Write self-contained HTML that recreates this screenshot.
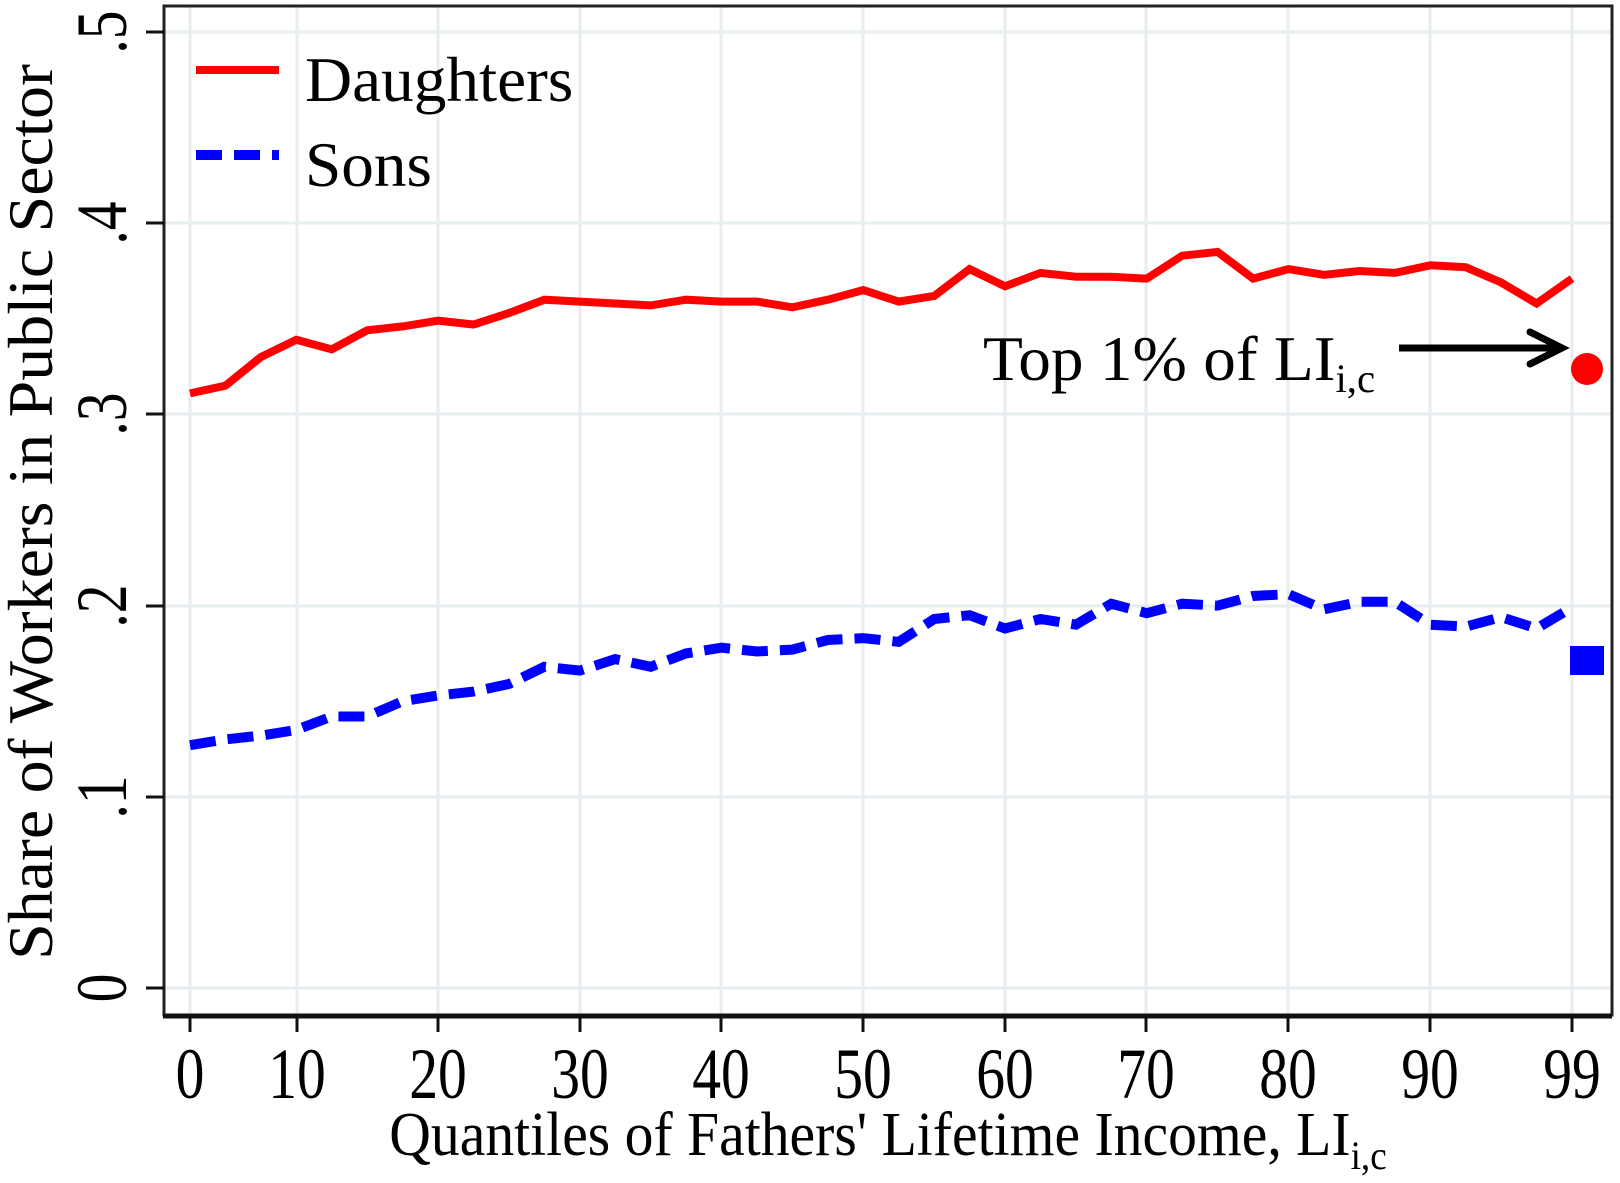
<!DOCTYPE html>
<html><head><style>body{margin:0;background:#fff}svg{display:block}text{font-family:"Liberation Serif",serif}</style></head><body>
<svg width="1620" height="1183" viewBox="0 0 1620 1183" xmlns="http://www.w3.org/2000/svg">
<g stroke="#e6eef0" stroke-width="3">
<line x1="163" x2="1612" y1="32" y2="32"/><line x1="163" x2="1612" y1="223" y2="223"/><line x1="163" x2="1612" y1="414" y2="414"/><line x1="163" x2="1612" y1="606" y2="606"/><line x1="163" x2="1612" y1="797" y2="797"/><line x1="163" x2="1612" y1="988" y2="988"/>
<line y1="6" y2="1015" x1="190" x2="190"/><line y1="6" y2="1015" x1="297" x2="297"/><line y1="6" y2="1015" x1="438" x2="438"/><line y1="6" y2="1015" x1="580" x2="580"/><line y1="6" y2="1015" x1="721" x2="721"/><line y1="6" y2="1015" x1="863" x2="863"/><line y1="6" y2="1015" x1="1005" x2="1005"/><line y1="6" y2="1015" x1="1146" x2="1146"/><line y1="6" y2="1015" x1="1288" x2="1288"/><line y1="6" y2="1015" x1="1430" x2="1430"/><line y1="6" y2="1015" x1="1572" x2="1572"/>
</g>
<rect x="164" y="6" width="1448" height="1009" fill="none" stroke="#222" stroke-width="3"/>
<line x1="163" x2="1612" y1="1016" y2="1016" stroke="#111" stroke-width="5"/>
<g stroke="#111" stroke-width="3">
<line x1="146" x2="164" y1="32" y2="32"/><line x1="146" x2="164" y1="223" y2="223"/><line x1="146" x2="164" y1="414" y2="414"/><line x1="146" x2="164" y1="606" y2="606"/><line x1="146" x2="164" y1="797" y2="797"/><line x1="146" x2="164" y1="988" y2="988"/>
<line y1="1016" y2="1032" x1="190" x2="190"/><line y1="1016" y2="1032" x1="297" x2="297"/><line y1="1016" y2="1032" x1="438" x2="438"/><line y1="1016" y2="1032" x1="580" x2="580"/><line y1="1016" y2="1032" x1="721" x2="721"/><line y1="1016" y2="1032" x1="863" x2="863"/><line y1="1016" y2="1032" x1="1005" x2="1005"/><line y1="1016" y2="1032" x1="1146" x2="1146"/><line y1="1016" y2="1032" x1="1288" x2="1288"/><line y1="1016" y2="1032" x1="1430" x2="1430"/><line y1="1016" y2="1032" x1="1572" x2="1572"/>
</g>
<g font-size="72" text-anchor="middle">
<text transform="translate(190,1098) scale(0.8,1)">0</text>
<text transform="translate(297,1098) scale(0.8,1)">10</text>
<text transform="translate(438,1098) scale(0.8,1)">20</text>
<text transform="translate(580,1098) scale(0.8,1)">30</text>
<text transform="translate(721,1098) scale(0.8,1)">40</text>
<text transform="translate(863,1098) scale(0.8,1)">50</text>
<text transform="translate(1005,1098) scale(0.8,1)">60</text>
<text transform="translate(1146,1098) scale(0.8,1)">70</text>
<text transform="translate(1288,1098) scale(0.8,1)">80</text>
<text transform="translate(1430,1098) scale(0.8,1)">90</text>
<text transform="translate(1572,1098) scale(0.8,1)">99</text>
</g>
<g font-size="72" text-anchor="middle">
<text transform="translate(126,988) rotate(-90) scale(0.8,1)">0</text>
<text transform="translate(126,797) rotate(-90) scale(0.8,1)">.1</text>
<text transform="translate(126,606) rotate(-90) scale(0.8,1)">.2</text>
<text transform="translate(126,414) rotate(-90) scale(0.8,1)">.3</text>
<text transform="translate(126,223) rotate(-90) scale(0.8,1)">.4</text>
<text transform="translate(126,32) rotate(-90) scale(0.8,1)">.5</text>
</g>
<text font-size="62" text-anchor="middle" transform="translate(888,1155) scale(0.93,1)">Quantiles of Fathers' Lifetime Income, LI<tspan font-size="40" dy="14">i,c</tspan></text>
<text font-size="64" text-anchor="middle" transform="translate(52,512) rotate(-90) scale(1.03,1)">Share of Workers in Public Sector</text>
<polyline fill="none" stroke="#f00" stroke-width="8" id="d" points=""/>
<polyline fill="none" stroke="#00f" stroke-width="10" stroke-dasharray="26,12" id="s" points=""/>
<line x1="196" x2="279" y1="70" y2="70" stroke="#f00" stroke-width="8"/>
<line x1="196" x2="279" y1="155" y2="155" stroke="#00f" stroke-width="10" stroke-dasharray="26,12"/>
<text font-size="64" transform="translate(305,101) scale(1.02,1)">Daughters</text>
<text font-size="64" transform="translate(305,186) scale(1.02,1)">Sons</text>
<text font-size="64" transform="translate(983,380) scale(1.02,1)">Top 1% of LI<tspan font-size="40" dy="12">i,c</tspan></text>
<line x1="1399" x2="1560" y1="348" y2="348" stroke="#000" stroke-width="7"/>
<polyline points="1530,332 1562,348 1530,364" fill="none" stroke="#000" stroke-width="7" stroke-linecap="round"/>
<circle cx="1587" cy="369" r="16" fill="#f00"/>
<rect x="1570" y="646" width="34" height="29" fill="#00f"/>
<script>
var d=[.311,.315,.330,.339,.334,.344,.346,.349,.347,.353,.360,.359,.358,.357,.360,.359,.359,.356,.360,.365,.359,.362,.376,.367,.374,.372,.372,.371,.383,.385,.371,.376,.373,.375,.374,.378,.377,.369,.358,.371];
var s=[.127,.130,.132,.135,.142,.142,.150,.153,.155,.159,.168,.166,.172,.168,.175,.178,.176,.177,.182,.183,.181,.193,.195,.188,.193,.190,.201,.196,.201,.200,.205,.206,.198,.202,.202,.190,.189,.194,.188,.199];
function p(a){return a.map(function(v,i){return (190+i*(1572-190)/39).toFixed(1)+","+(988-v*1912).toFixed(1)}).join(" ")}
document.getElementById("d").setAttribute("points",p(d));
document.getElementById("s").setAttribute("points",p(s));
</script>
</svg>
</body></html>
